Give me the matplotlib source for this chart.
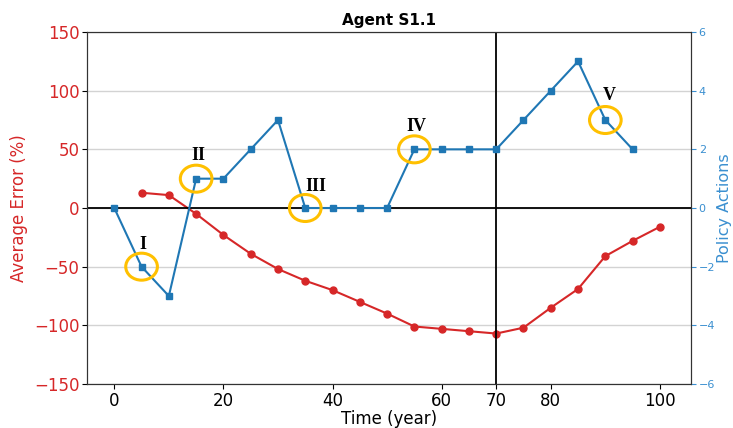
import matplotlib.pyplot as plt
from matplotlib.patches import Ellipse
import numpy as np

# average error (%) per time step
err_years = [5, 10, 15, 20, 25, 30, 35, 40, 45, 50, 55, 60, 65, 70, 75, 80, 85, 90, 95, 100]
err_vals = [13, 11, -5, -23, -39, -52, -62, -70, -80, -90, -101, -103, -105, -107, -102, -85, -69, -41, -28, -16]

# policy actions
act_years = [0, 5, 10, 15, 20, 25, 30, 35, 40, 45, 50, 55, 60, 65, 70, 75, 80, 85, 90, 95]
act_vals = [0, -2, -3, 1, 1, 2, 3, 0, 0, 0, 0, 2, 2, 2, 2, 3, 4, 5, 3, 2]

# highlighted actions and their labels
mark_years = [5, 15, 35, 55, 90]
mark_vals = [-2, 1, 0, 2, 3]
mark_labels = ["I", "II", "III", "IV", "V"]
label_pos = [(5.2, -1.25), (15.4, 1.8), (37.0, 0.72), (55.3, 2.78), (90.8, 3.85)]

xticks = [0, 20, 40, 60, 70, 80, 100]

fig = plt.figure(figsize=(7.33, 4.28), dpi=100)
ax = fig.add_axes([0.1187, 0.1028, 0.824, 0.8224])

ax.plot(err_years, err_vals, color="tab:red", marker="o", markersize=5, linewidth=1.5)
ax.set_ylim(-150, 150)
ax.set_yticks([-150, -100, -50, 0, 50, 100, 150])
ax.set_xlim(-5, 105.7)
ax.set_xticks(xticks)
ax.grid(axis="y", color="lightgray", linewidth=1)
ax.axhline(0, color="black", linewidth=1.3)
ax.axvline(70, color="black", linewidth=1.3)
ax.tick_params(axis="y", labelcolor="tab:red", labelsize=12, pad=2)
ax.tick_params(axis="x", labelsize=12, pad=2)
ax.set_ylabel("Average Error (%)", color="tab:red", fontsize=12)
ax.set_xlabel("Time (year)", fontsize=12, labelpad=0)
ax.set_title("Agent S1.1", fontweight="bold", fontsize=11, pad=5)
for s in ax.spines.values():
    s.set_color("#333333")

ax2 = ax.twinx()
ax2.plot(act_years, act_vals, color="tab:blue", marker="s", markersize=5, linewidth=1.5)
ax2.set_ylim(-6, 6)
ax2.set_yticks([-6, -4, -2, 0, 2, 4, 6])
ax2.tick_params(axis="y", labelcolor="#3a8fd0", color="#3a8fd0", labelsize=8, pad=2)
ax2.set_ylabel("Policy Actions", color="#3a8fd0", fontsize=11.5, labelpad=1)
for s in ax2.spines.values():
    s.set_color("#333333")

for x, y in zip(mark_years, mark_vals):
    ax2.add_patch(Ellipse((x, y), 5.8, 0.92, fill=False, edgecolor="#FFC000", linewidth=2.2, zorder=5))
for (x, y), txt in zip(label_pos, mark_labels):
    ax2.text(x, y, txt, ha="center", va="center", fontsize=13, fontweight="bold",
             family="Liberation Serif", zorder=6)

fig.savefig("out.png", dpi=100)
